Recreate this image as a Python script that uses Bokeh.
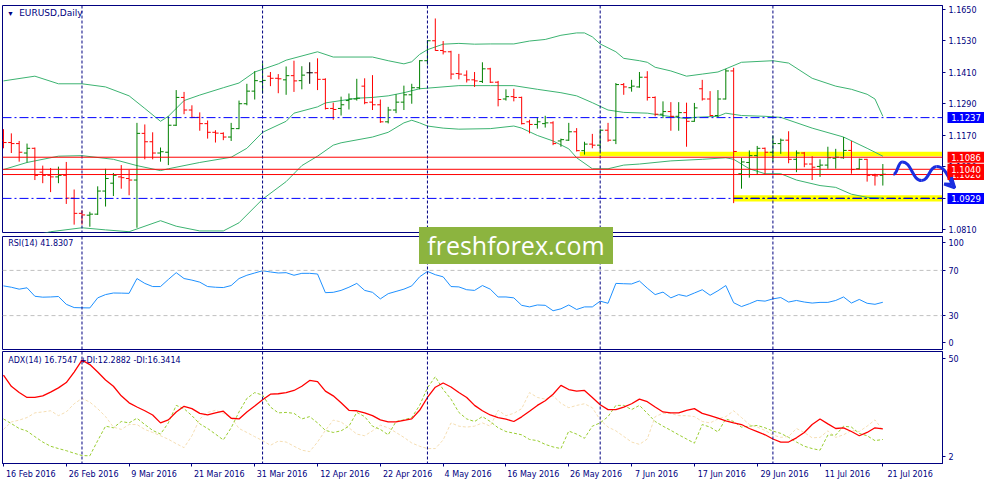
from bokeh.plotting import figure
from bokeh.models import (ColumnDataSource, Range1d, FixedTicker, NumeralTickFormatter,
                          Span, Label, Div, Arrow, VeeHead)
from bokeh.layouts import column
from bokeh.core.properties import value
from bokeh.embed import file_html
from bokeh.resources import INLINE

NAVY = "#000080"
FONT = "DejaVu Sans"

# ---- data (EURUSD daily, 16 Feb - 21 Jul 2016), bar index = trading day ----
opens = [1.1151, 1.1142, 1.1138, 1.1102, 1.1120, 1.1029, 1.1017, 1.1011, 1.1017, 1.0930,
         1.0872, 1.0865, 1.0869, 1.0957, 1.0987, 1.1011, 1.1005, 1.0999, 1.1177, 1.1145,
         1.1102, 1.1105, 1.1208, 1.1314, 1.1266, 1.1238, 1.1214, 1.1181, 1.1177, 1.1163,
         1.1195, 1.1290, 1.1338, 1.1374, 1.1395, 1.1387, 1.1381, 1.1397, 1.1378, 1.1408,
         1.1408, 1.1383, 1.1272, 1.1272, 1.1302, 1.1308, 1.1357, 1.1296, 1.1286, 1.1221,
         1.1266, 1.1296, 1.1324, 1.1351, 1.1454, 1.1530, 1.1493, 1.1488, 1.1405, 1.1399,
         1.1381, 1.1375, 1.1423, 1.1372, 1.1308, 1.1317, 1.1314, 1.1221, 1.1211, 1.1214,
         1.1217, 1.1148, 1.1151, 1.1183, 1.1111, 1.1136, 1.1132, 1.1189, 1.1151, 1.1363,
         1.1351, 1.1354, 1.1391, 1.1314, 1.1250, 1.1260, 1.1242, 1.1256, 1.1223, 1.1347,
         1.1308, 1.1245, 1.1308, 1.1415, 1.1023, 1.1066, 1.1092, 1.1120, 1.1105, 1.1138,
         1.1151, 1.1078, 1.1102, 1.1060, 1.1051, 1.1056, 1.1082, 1.1084, 1.1112, 1.1042,
         1.1078, 1.1017, 1.1017]
highs = [1.1193, 1.1177, 1.1148, 1.1138, 1.1123, 1.1054, 1.1045, 1.1050, 1.1068, 1.0963,
         1.0884, 1.0878, 1.0975, 1.1042, 1.1026, 1.1056, 1.1038, 1.1217, 1.1211, 1.1181,
         1.1123, 1.1242, 1.1342, 1.1335, 1.1284, 1.1257, 1.1226, 1.1189, 1.1181, 1.1217,
         1.1302, 1.1366, 1.1414, 1.1444, 1.1411, 1.1403, 1.1432, 1.1454, 1.1433, 1.1448,
         1.1463, 1.1387, 1.1294, 1.1317, 1.1329, 1.1385, 1.1387, 1.1399, 1.1306, 1.1278,
         1.1326, 1.1359, 1.1366, 1.1456, 1.1532, 1.1615, 1.1529, 1.1492, 1.1480, 1.1417,
         1.1411, 1.1448, 1.1427, 1.1377, 1.1345, 1.1347, 1.1317, 1.1229, 1.1238, 1.1244,
         1.1223, 1.1157, 1.1217, 1.1197, 1.1145, 1.1175, 1.1193, 1.1217, 1.1369, 1.1369,
         1.1381, 1.1411, 1.1414, 1.1318, 1.1299, 1.1296, 1.1296, 1.1294, 1.1293, 1.1381,
         1.1338, 1.1342, 1.1423, 1.1427, 1.1084, 1.1112, 1.1129, 1.1123, 1.1169, 1.1157,
         1.1185, 1.1112, 1.1106, 1.1090, 1.1078, 1.1126, 1.1118, 1.1163, 1.1148, 1.1081,
         1.1080, 1.1023, 1.1060]
lows = [1.1120, 1.1102, 1.1069, 1.1066, 1.0999, 1.0987, 1.0953, 1.0987, 1.0908, 1.0829,
        1.0829, 1.0821, 1.0866, 1.0898, 1.0938, 1.0966, 1.0941, 1.0817, 1.1078, 1.1078,
        1.1069, 1.1056, 1.1205, 1.1250, 1.1235, 1.1187, 1.1157, 1.1142, 1.1151, 1.1148,
        1.1193, 1.1284, 1.1306, 1.1329, 1.1357, 1.1330, 1.1324, 1.1335, 1.1345, 1.1366,
        1.1342, 1.1268, 1.1229, 1.1245, 1.1268, 1.1302, 1.1288, 1.1266, 1.1217, 1.1215,
        1.1254, 1.1266, 1.1290, 1.1345, 1.1439, 1.1492, 1.1478, 1.1383, 1.1383, 1.1371,
        1.1354, 1.1369, 1.1369, 1.1280, 1.1302, 1.1299, 1.1211, 1.1177, 1.1195, 1.1199,
        1.1132, 1.1126, 1.1148, 1.1108, 1.1096, 1.1120, 1.1108, 1.1145, 1.1136, 1.1324,
        1.1336, 1.1351, 1.1302, 1.1242, 1.1235, 1.1187, 1.1187, 1.1126, 1.1221, 1.1302,
        1.1242, 1.1239, 1.1306, 1.0911, 1.0966, 1.1008, 1.1020, 1.1023, 1.1068, 1.1099,
        1.1063, 1.1029, 1.1048, 1.0999, 1.1011, 1.1042, 1.1042, 1.1080, 1.1023, 1.1039,
        1.0993, 1.0978, 1.0978]
closes = [1.1142, 1.1138, 1.1105, 1.1120, 1.1017, 1.1017, 1.1011, 1.1017, 1.0930, 1.0872,
          1.0866, 1.0869, 1.0957, 1.1005, 1.1017, 1.1008, 1.0999, 1.1177, 1.1145, 1.1102,
          1.1107, 1.1208, 1.1314, 1.1266, 1.1238, 1.1214, 1.1181, 1.1178, 1.1163, 1.1195,
          1.1290, 1.1338, 1.1378, 1.1379, 1.1387, 1.1385, 1.1397, 1.1377, 1.1399, 1.1408,
          1.1383, 1.1272, 1.1268, 1.1286, 1.1308, 1.1311, 1.1294, 1.1286, 1.1221, 1.1266,
          1.1296, 1.1324, 1.1351, 1.1454, 1.1530, 1.1493, 1.1488, 1.1403, 1.1403, 1.1381,
          1.1377, 1.1423, 1.1372, 1.1306, 1.1317, 1.1314, 1.1214, 1.1211, 1.1221, 1.1217,
          1.1138, 1.1153, 1.1183, 1.1111, 1.1136, 1.1132, 1.1189, 1.1151, 1.1363, 1.1354,
          1.1357, 1.1391, 1.1314, 1.1250, 1.1260, 1.1242, 1.1256, 1.1223, 1.1274, 1.1308,
          1.1245, 1.1308, 1.1415, 1.1108, 1.1068, 1.1092, 1.1120, 1.1105, 1.1138, 1.1151,
          1.1078, 1.1102, 1.1060, 1.1048, 1.1056, 1.1084, 1.1086, 1.1112, 1.1039, 1.1078,
          1.1017, 1.1015, 1.1021]

# Bollinger bands (20, 2) read at their turning points
bb_upper_x = [0, 4, 7, 10, 13, 16, 18, 20, 21, 23, 25, 28, 30, 32, 35, 36, 40, 42, 47, 49,
              51, 52, 53, 54, 56, 58, 60, 62, 65, 67, 69, 71, 73, 74, 75, 76, 78, 79, 81, 82,
              83, 85, 87, 89, 91, 92, 94, 98, 100, 103, 106, 108, 110, 111, 112]
bb_upper = [1.1377, 1.1395, 1.1366, 1.1366, 1.1354, 1.1320, 1.1272, 1.1223, 1.1242, 1.1302,
            1.1323, 1.1351, 1.1369, 1.1411, 1.1442, 1.1456, 1.1488, 1.1468, 1.1468, 1.1454,
            1.1442, 1.1450, 1.1478, 1.1496, 1.1517, 1.1520, 1.1517, 1.1518, 1.1518, 1.1529,
            1.1535, 1.1551, 1.1560, 1.1560, 1.1545, 1.1518, 1.1488, 1.1463, 1.1454, 1.1448,
            1.1429, 1.1415, 1.1395, 1.1403, 1.1411, 1.1423, 1.1448, 1.1454, 1.1445, 1.1387,
            1.1357, 1.1345, 1.1326, 1.1308, 1.1242]
bb_mid_x = [0, 3, 7, 10, 14, 17, 20, 21, 25, 29, 31, 33, 36, 37, 40, 41, 43, 45, 47, 49,
            51, 53, 58, 62, 65, 68, 71, 73, 75, 77, 79, 82, 84, 87, 88, 91, 92, 94, 97, 99,
            103, 107, 110, 112]
bb_mid = [1.1039, 1.1066, 1.1090, 1.1092, 1.1078, 1.1054, 1.1035, 1.1042, 1.1066, 1.1086,
          1.1120, 1.1181, 1.1223, 1.1254, 1.1278, 1.1293, 1.1302, 1.1311, 1.1314, 1.1320,
          1.1332, 1.1347, 1.1359, 1.1359, 1.1359, 1.1345, 1.1332, 1.1320, 1.1294, 1.1266,
          1.1257, 1.1254, 1.1245, 1.1233, 1.1238, 1.1242, 1.1254, 1.1245, 1.1242, 1.1238,
          1.1197, 1.1163, 1.1120, 1.1090]
bb_lower_x = [0, 3, 6, 10, 13, 16, 20, 22, 25, 28, 30, 33, 36, 38, 40, 42, 43, 47, 49, 51,
              52, 53, 54, 56, 58, 62, 65, 66, 68, 70, 72, 73, 75, 77, 79, 81, 85, 89, 92, 93,
              95, 97, 99, 101, 104, 106, 108, 110, 112]
bb_lower = [1.0763, 1.0781, 1.0802, 1.0817, 1.0809, 1.0802, 1.0844, 1.0823, 1.0805, 1.0805,
            1.0836, 1.0926, 1.0993, 1.1054, 1.1090, 1.1132, 1.1141, 1.1163, 1.1181, 1.1217,
            1.1227, 1.1217, 1.1205, 1.1197, 1.1193, 1.1195, 1.1205, 1.1197, 1.1169, 1.1148,
            1.1118, 1.1084, 1.1042, 1.1042, 1.1056, 1.1060, 1.1072, 1.1078, 1.1084, 1.1078,
            1.1042, 1.1023, 1.1023, 1.0999, 1.0978, 1.0971, 1.0945, 1.0933, 1.0930]

rsi = [56.3, 55.1, 53.4, 54.6, 47.1, 46.3, 46.5, 46.9, 40.0, 37.1,
       36.9, 36.8, 45.7, 48.6, 50.0, 49.9, 49.7, 62.8, 58.5, 55.7,
       55.7, 62.0, 68.0, 62.8, 61.4, 59.6, 55.7, 55.1, 54.8, 56.6,
       62.8, 65.7, 67.7, 69.7, 68.6, 67.7, 68.0, 65.7, 67.4, 67.4,
       66.8, 50.3, 50.6, 52.3, 55.1, 58.5, 52.3, 50.6, 44.8, 49.4,
       51.4, 53.4, 56.3, 64.3, 69.1, 66.2, 64.3, 55.7, 55.4, 52.9,
       52.3, 56.6, 53.4, 46.5, 46.5, 45.7, 39.1, 37.7, 39.4, 39.1,
       34.3, 36.0, 39.4, 35.4, 37.7, 37.7, 42.8, 40.9, 58.5, 58.2,
       58.0, 60.6, 54.3, 48.6, 50.8, 45.7, 48.6, 47.1, 50.0, 52.9,
       48.0, 52.0, 56.6, 41.4, 38.0, 40.5, 43.4, 42.8, 44.8, 46.0,
       42.0, 43.4, 42.0, 41.1, 41.7, 41.7, 43.4, 46.5, 41.1, 44.3,
       40.9, 40.0, 41.8]

adx = [39.9, 35.1, 32.4, 30.3, 30.3, 31.0, 32.6, 34.4, 36.7, 41.2,
       46.3, 44.4, 41.2, 37.8, 35.1, 31.0, 28.0, 26.2, 24.6, 22.8,
       19.4, 20.7, 24.1, 26.5, 25.5, 23.5, 22.8, 23.7, 24.4, 21.4,
       21.1, 24.1, 26.6, 29.3, 31.7, 31.9, 32.4, 33.3, 35.1, 37.6,
       37.1, 33.0, 31.0, 28.0, 24.8, 24.6, 23.7, 22.5, 20.7, 19.8,
       19.8, 20.5, 21.1, 24.8, 30.3, 34.7, 36.5, 34.8, 32.4, 30.3,
       26.9, 24.6, 22.8, 21.7, 21.0, 20.0, 22.0, 24.4, 26.9, 28.9,
       31.7, 35.5, 33.7, 33.0, 33.3, 30.3, 27.2, 25.1, 25.1, 26.2,
       27.6, 29.6, 28.5, 26.2, 24.1, 23.7, 23.7, 24.8, 25.5, 23.5,
       22.5, 21.4, 20.3, 19.4, 18.7, 17.0, 15.7, 14.3, 12.5, 11.2,
       11.2, 13.0, 15.3, 18.7, 21.1, 19.0, 17.0, 17.3, 15.7, 13.9,
       15.3, 17.3, 16.8]
plus_di = [21.1, 19.1, 17.0, 15.9, 13.5, 11.2, 9.4, 8.4, 7.5, 6.4,
           5.4, 5.3, 11.8, 18.0, 17.3, 20.0, 19.4, 21.4, 18.7, 16.2,
           14.6, 19.4, 26.9, 25.5, 22.5, 19.0, 17.0, 14.6, 12.1, 17.3,
           24.1, 29.9, 32.4, 31.3, 26.2, 23.7, 23.9, 23.5, 21.1, 22.1,
           19.4, 16.2, 15.3, 16.0, 18.0, 23.9, 22.1, 18.0, 16.6, 14.3,
           20.0, 20.7, 21.7, 26.9, 34.4, 39.2, 33.7, 29.6, 23.9, 21.1,
           20.0, 22.1, 20.0, 17.3, 15.7, 15.0, 14.3, 12.3, 11.8, 10.2,
           9.1, 8.4, 15.9, 14.6, 12.8, 18.0, 19.4, 22.1, 26.9, 26.9,
           25.1, 26.9, 23.5, 20.0, 18.0, 16.2, 14.3, 12.5, 10.7, 18.7,
           17.6, 15.5, 21.1, 20.0, 17.6, 18.0, 18.3, 17.3, 15.9, 14.9,
           13.2, 11.2, 9.4, 8.4, 7.7, 14.2, 14.2, 18.0, 17.6, 14.9,
           13.9, 11.8, 12.3]
minus_di = [16.6, 19.8, 20.6, 21.7, 23.7, 24.1, 24.6, 22.5, 24.1, 27.6,
            29.9, 28.3, 25.5, 22.1, 17.6, 16.6, 18.7, 18.7, 16.6, 15.3,
            13.9, 12.4, 10.5, 8.8, 13.9, 21.1, 23.9, 24.8, 23.5, 21.7,
            17.0, 15.3, 13.5, 11.8, 9.8, 11.6, 11.2, 9.4, 7.7, 7.1,
            11.2, 16.2, 20.6, 19.8, 17.3, 14.6, 13.9, 16.0, 18.4, 17.3,
            15.3, 13.2, 10.8, 9.4, 8.4, 8.4, 12.1, 19.4, 18.0, 17.6,
            18.0, 19.4, 18.0, 24.8, 22.5, 23.5, 25.5, 32.4, 30.3, 29.6,
            31.0, 27.8, 25.9, 26.9, 27.6, 25.9, 20.7, 17.6, 16.0, 13.6,
            11.2, 10.2, 12.5, 22.1, 23.5, 23.5, 22.5, 22.5, 22.1, 20.0,
            19.4, 21.1, 22.1, 24.6, 21.7, 18.7, 17.6, 16.2, 14.2, 13.2,
            13.6, 17.0, 15.3, 13.0, 13.2, 16.0, 13.2, 14.3, 16.2, 15.7,
            18.0, 20.7, 16.3]

date_ticks = [0, 8, 16, 24, 32, 40, 48, 56, 64, 72, 80, 88, 96, 104, 112]
date_labels = ["16 Feb 2016", "26 Feb 2016", "9 Mar 2016", "21 Mar 2016", "31 Mar 2016",
               "12 Apr 2016", "22 Apr 2016", "4 May 2016", "16 May 2016", "26 May 2016",
               "7 Jun 2016", "17 Jun 2016", "29 Jun 2016", "11 Jul 2016", "21 Jul 2016"]
month_starts = [10, 33, 54, 76, 98]
price_ticks = [1.0810, 1.0930, 1.1050, 1.1170, 1.1290, 1.1410, 1.1530, 1.1650]

blue_levels = [1.1237, 1.0929]
red_levels = [1.1086, 1.1040, 1.1020]
# highlighted zones: start bar, bottom, top
zone_start = [73.4, 93.0]
zone_bottom = [1.1090, 1.0917]
zone_top = [1.1107, 1.0941]
# forecast path (bar, price)
path_x = [113.1, 114.2, 116.7, 118.6, 120.9]
path_y = [1.1021, 1.1068, 1.0997, 1.1051, 1.0969]

# ---- layout constants ----
FRAME_W = 940
X0, X1 = -0.125, 119.6
PPB = FRAME_W / (X1 - X0)          # pixels per bar
MAIN_H, MAIN_TOP, MAIN_BOT = 227, 5, 3
x_range = Range1d(X0, X1)
X_END = 121.0


def pane(height, y_range, top=1, bottom=1, xaxis=None):
    p = figure(frame_width=FRAME_W, frame_height=height, x_range=x_range, y_range=y_range,
               output_backend="svg", toolbar_location=None, tools="",
               x_axis_location=xaxis, y_axis_location="right",
               min_border_left=2, min_border_right=40,
               min_border_top=top, min_border_bottom=bottom)
    p.grid.visible = False
    p.outline_line_color = NAVY
    p.outline_line_width = 1
    ax = p.yaxis[0]
    ax.axis_line_color = NAVY
    ax.major_tick_line_color = NAVY
    ax.major_tick_out = 3
    ax.major_tick_in = 0
    ax.minor_tick_line_color = None
    ax.major_label_text_color = NAVY
    ax.major_label_text_font = FONT
    ax.major_label_text_font_size = "8px"
    ax.major_label_standoff = 3
    for m in month_starts:
        p.add_layout(Span(location=m, dimension="height", line_color=NAVY,
                          line_dash="3 2", line_width=1))
    return p


# main price pane
price_range = Range1d(1.0799, 1.16645)
main = pane(MAIN_H, price_range, top=MAIN_TOP, bottom=MAIN_BOT)
main.yaxis.ticker = FixedTicker(ticks=price_ticks)
main.yaxis.formatter = NumeralTickFormatter(format="0.0000")

for lvl in blue_levels:
    main.add_layout(Span(location=lvl, dimension="width", line_color="#0000ff",
                         line_dash="9 3 2 3", line_width=1))
for lvl in red_levels:
    main.add_layout(Span(location=lvl, dimension="width", line_color="#ff0000", line_width=1))

zones = ColumnDataSource(dict(left=zone_start, right=[X_END] * 2,
                              bottom=zone_bottom, top=zone_top))
main.quad(left="left", right="right", bottom="bottom", top="top", source=zones,
          fill_color="#ffff00", line_color=None)
main.segment(x0=zone_start[1], x1=X_END, y0=blue_levels[1], y1=blue_levels[1],
             line_color="black", line_dash="9 3 2 3", line_width=1.2)

for bx, by in ((bb_upper_x, bb_upper), (bb_mid_x, bb_mid), (bb_lower_x, bb_lower)):
    main.line(bx, by, line_color="#3cb371", line_width=1)

idx = list(range(len(opens)))
colors = ["#008000" if c > o else ("#ff0000" if c < o else "#000000")
          for o, c in zip(opens, closes)]
bars = ColumnDataSource(dict(x=idx, xl=[i - 0.4 for i in idx], xr=[i + 0.4 for i in idx],
                             open=opens, high=highs, low=lows, close=closes, color=colors))
main.segment(x0="x", x1="x", y0="low", y1="high", source=bars, line_color="color", line_width=1)
main.segment(x0="xl", x1="x", y0="open", y1="open", source=bars, line_color="color", line_width=1)
main.segment(x0="x", x1="xr", y0="close", y1="close", source=bars, line_color="color", line_width=1)

main.add_layout(Label(x=0.9, y=1.16355, text="\u25bc", text_font_size="7px",
                      text_color=NAVY, text_baseline="middle", text_align="center"))
main.add_layout(Label(x=2.0, y=1.16355, text="EURUSD,Daily", text_font=FONT,
                      text_font_size="9px", text_color=NAVY, text_baseline="middle"))

# transparent overlay over the right end of the price pane and its scale:
# carries the price tags and the forecast arrow that run past the frame
OV_LEFT = 860
ov = figure(frame_width=FRAME_W + 42 - OV_LEFT, frame_height=MAIN_H,
            x_range=Range1d(X0 + OV_LEFT / PPB, X0 + (FRAME_W + 42) / PPB), y_range=price_range,
            output_backend="svg", toolbar_location=None, tools="",
            x_axis_location=None, y_axis_location=None,
            min_border_left=0, min_border_right=0,
            min_border_top=MAIN_TOP, min_border_bottom=MAIN_BOT,
            background_fill_color=None, border_fill_color=None, outline_line_color=None,
            styles={"position": "absolute", "left": f"{2 + OV_LEFT}px", "top": "0px",
                    "z-index": "5"})
ov.xgrid.visible = False
ov.ygrid.visible = False

x0s, y0s, x1s, y1s, cx0, cy0, cx1, cy1 = [], [], [], [], [], [], [], []
for k in range(len(path_x) - 1):
    dx = path_x[k + 1] - path_x[k]
    dy = path_y[k + 1] - path_y[k]
    x0s.append(path_x[k]); y0s.append(path_y[k])
    x1s.append(path_x[k + 1]); y1s.append(path_y[k + 1])
    cx0.append(path_x[k] + dx / 2); cy0.append(path_y[k])
    if k == len(path_x) - 2:
        cx1.append(path_x[k + 1] - dx * 0.35); cy1.append(path_y[k + 1] - dy * 0.45)
    else:
        cx1.append(path_x[k + 1] - dx / 2); cy1.append(path_y[k + 1])
ov.bezier(x0=x0s, y0=y0s, x1=x1s, y1=y1s, cx0=cx0, cy0=cy0, cx1=cx1, cy1=cy1,
          line_color="#1a2ee0", line_width=3)
ov.add_layout(Arrow(end=VeeHead(size=10, line_color="#1a2ee0", line_width=3, fill_color=None),
                    line_alpha=0, x_start=path_x[-1] - 0.35, y_start=path_y[-1] + 0.0011,
                    x_end=path_x[-1], y_end=path_y[-1]))

tag_cx = X1 + (3 + 18.5) / PPB
tag_levels = [(blue_levels[0], "#0000ff"), (red_levels[0], "#ff0000"),
              (red_levels[2], "#ff0000"), (red_levels[1], "#ff0000"), (blue_levels[1], "#0000ff")]
for lvl, col in tag_levels:
    ov.rect(x=[tag_cx], y=[lvl], width=37, height=11, width_units="screen",
            height_units="screen", fill_color=col, line_color=None)
    ov.text(x=[tag_cx], y=[lvl], text=[f"{lvl:.4f}"], text_font=value(FONT),
            text_font_size="8.5px", text_color="white", text_align="center",
            text_baseline="middle")

# RSI pane
rsi_p = pane(113, Range1d(0, 100))
rsi_p.yaxis.ticker = FixedTicker(ticks=[95, 70, 30, 6])
rsi_p.yaxis.major_label_overrides = {95: "100", 70: "70", 30: "30", 6: "0"}
for lvl in (70, 30):
    rsi_p.add_layout(Span(location=lvl, dimension="width", line_color="#c0c0c0",
                          line_dash="4 3", line_width=1))
rsi_p.line(idx, rsi, line_color="#1e90ff", line_width=1)
rsi_p.add_layout(Label(x=0.6, y=93.4, text="RSI(14) 41.8307", text_font=FONT,
                       text_font_size="8px", text_color=NAVY, text_baseline="middle"))

# ADX pane
adx_p = pane(112, Range1d(2, 50), bottom=20, xaxis="below")
adx_p.yaxis.ticker = FixedTicker(ticks=[47.1, 4.9])
adx_p.yaxis.major_label_overrides = {47.1: "50", 4.9: "2"}
adx_p.line(idx, minus_di, line_color="#f5deb3", line_dash="3 2", line_width=1)
adx_p.line(idx, plus_di, line_color="#9acd32", line_dash="3 2", line_width=1)
adx_p.line(idx, adx, line_color="#ff0000", line_width=1.3)
adx_p.add_layout(Label(x=0.6, y=46.3, text="ADX(14) 16.7547 +DI:12.2882 -DI:16.3414",
                       text_font=FONT, text_font_size="8px", text_color=NAVY,
                       text_baseline="middle"))

# date scale: tick marks on the bars (minor ticks), labels starting just right of each tick
label_pos = [t + (len(s) * 2.35 + 1.5) / PPB for t, s in zip(date_ticks, date_labels)]
xa = adx_p.xaxis[0]
xa.ticker = FixedTicker(ticks=label_pos, minor_ticks=date_ticks)
xa.major_label_overrides = {p: s for p, s in zip(label_pos, date_labels)}
xa.axis_line_color = NAVY
xa.major_tick_line_color = None
xa.minor_tick_line_color = NAVY
xa.minor_tick_out = 3
xa.minor_tick_in = 0
xa.major_tick_out = 3
xa.major_tick_in = 0
xa.major_label_text_color = NAVY
xa.major_label_text_font = FONT
xa.major_label_text_font_size = "8px"
xa.major_label_standoff = 3

watermark = Div(text="freshforex.com", width=194, height=37,
                styles={"position": "absolute", "left": "414px", "top": "222px",
                        "background-color": "#8cb43f", "color": "white",
                        "font-family": "Open Sans", "font-size": "25px",
                        "text-align": "center", "line-height": "37px", "z-index": "10"})

layout = column(main, rsi_p, adx_p, ov, watermark)
open("out.html", "w").write(file_html(layout, INLINE))
